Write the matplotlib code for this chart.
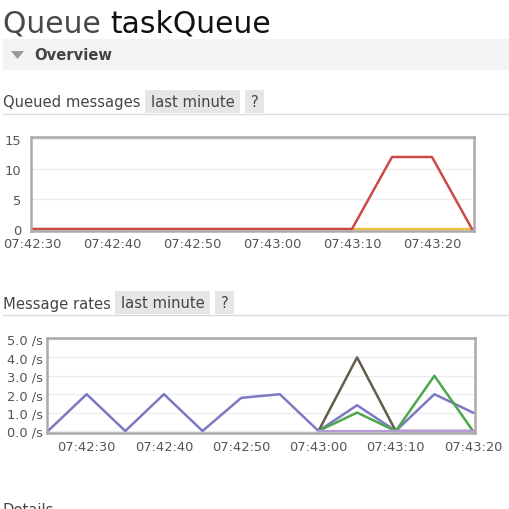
import matplotlib
matplotlib.use("Agg")
import matplotlib.pyplot as plt
import matplotlib.dates as mdates
from matplotlib.patches import Rectangle, Polygon
from matplotlib.lines import Line2D
from matplotlib.ticker import FormatStrFormatter
import numpy as np
import pandas as pd

# ---------------- data ----------------
queue_times = pd.date_range("2024-01-01 07:42:30", "2024-01-01 07:43:25", freq="5s")
queued_ready = [0, 0, 0, 0, 0, 0, 0, 0, 0, 0, 0, 0]
queued_total = [0, 0, 0, 0, 0, 0, 0, 0, 0, 12, 12, 0]

rate_times = pd.date_range("2024-01-01 07:42:25", "2024-01-01 07:43:20", freq="5s")
rate_light = [None, None, None, None, None, None, None, 0, 0, 0, 0, 0]
rate_purple = [0, 2.0, 0, 2.0, 0, 1.8, 2.0, 0, 1.4, 0, 2.0, 1.0]
rate_gray = [None, None, None, None, None, None, None, 0, 4.0, 0, 0, 0]
rate_green = [None, None, None, None, None, None, None, 0, 1.0, 0, 3.0, 0]

queued_yticks = [0, 5, 10, 15]
rate_yticks = [0, 1, 2, 3, 4, 5]

# ---------------- figure ----------------
W = H = 510
fig = plt.figure(figsize=(W / 100, H / 100), dpi=100)
fig.patch.set_facecolor("white")


def fx(x):
    return x / W


def fy(y):
    return 1 - y / H


def rect(x0, y0, x1, y1, color):
    fig.add_artist(Rectangle((fx(x0), fy(y1)), fx(x1) - fx(x0), fy(y0) - fy(y1),
                             transform=fig.transFigure, facecolor=color, edgecolor="none"))


def hline(y, x0, x1, color, lw=1.0):
    fig.add_artist(Line2D([fx(x0), fx(x1)], [fy(y), fy(y)], transform=fig.transFigure,
                          color=color, lw=lw))


TXT = "#444444"
FONT = "DejaVu Sans"

# Title
t1 = fig.text(fx(3), fy(33), "Queue ", fontsize=21.4, color="#484848", family=FONT, va="baseline")
fig.canvas.draw()
bb = t1.get_window_extent()
fig.text(bb.x1 / W, fy(33), "taskQueue", fontsize=21.4, color="#111111", family=FONT, va="baseline")

# Overview bar
rect(3, 40, 510, 71, "#f3f3f3")
fig.add_artist(Polygon([[fx(11), fy(52)], [fx(24), fy(52)], [fx(17.5), fy(60)]], closed=True,
                       transform=fig.transFigure, facecolor="#9a9a9a", edgecolor="none"))
fig.text(fx(34), fy(56), "Overview", fontsize=10.6, fontweight="bold", color=TXT,
         family=FONT, va="center")


def section_header(label, ycenter, box_x0, box_x1, q_x0, q_x1, line_y):
    fig.text(fx(3), fy(ycenter), label, fontsize=10.6, color=TXT, family=FONT, va="center")
    rect(box_x0, ycenter - 12, box_x1, ycenter + 11, "#e6e6e6")
    fig.text(fx((box_x0 + box_x1) / 2), fy(ycenter), "last minute", fontsize=10.6, color=TXT,
             family=FONT, va="center", ha="center")
    rect(q_x0, ycenter - 12, q_x1, ycenter + 11, "#e6e6e6")
    fig.text(fx((q_x0 + q_x1) / 2), fy(ycenter), "?", fontsize=10.6, color=TXT,
             family=FONT, va="center", ha="center")
    hline(line_y, 3, 510, "#dddddd", lw=1.0)


section_header("Queued messages", 103, 145, 240, 245, 264, 115)
section_header("Message rates", 304, 115, 210, 215, 234, 316)

fig.text(fx(3), fy(503), "Details", fontsize=10.6, color=TXT, family=FONT, va="top")


def style_axes(ax):
    for s in ax.spines.values():
        s.set_color("#aaaaaa")
        s.set_linewidth(1.8)
    ax.tick_params(length=0, labelsize=9.4, labelcolor="#555555")
    for lab in ax.get_xticklabels() + ax.get_yticklabels():
        lab.set_family(FONT)
    ax.grid(axis="y", color="#ebebeb", lw=0.8)
    ax.grid(axis="x", visible=False)
    ax.set_axisbelow(True)


# ---------------- chart 1: queued messages ----------------
# pixel mapping: x = 32 + 8 px/s from 07:42:30 ; y = 230 - 6 px/unit
ax1 = fig.add_axes([fx(31), fy(232), fx(474) - fx(31), fy(138) - fy(232)])
t0 = mdates.date2num(queue_times[0])
sec = 1 / 86400
ax1.set_xlim(t0 - 0.125 * sec, t0 + 55.25 * sec)
ax1.set_ylim(-2 / 6, 15 + 2 / 6)
ax1.plot(queue_times, queued_ready, color="#edc240", lw=1.7)
ax1.plot(queue_times, queued_total, color="#cb4b4b", lw=1.8)
ax1.set_yticks(queued_yticks)
ax1.xaxis.set_major_locator(mdates.SecondLocator(bysecond=[0, 10, 20, 30, 40, 50]))
ax1.xaxis.set_major_formatter(mdates.DateFormatter("%H:%M:%S"))
ax1.tick_params(axis="y", pad=7)
ax1.tick_params(axis="x", pad=4.5)
style_axes(ax1)

# ---------------- chart 2: message rates ----------------
# pixel mapping: x = 48 + 7.72 px/s from 07:42:25 ; y = 432 - 18.4 px/unit
ax2 = fig.add_axes([fx(47), fy(434), fx(475) - fx(47), fy(339) - fy(434)])
r0 = mdates.date2num(rate_times[0])
ax2.set_xlim(r0 - (1 / 7.72) * sec, r0 + (55 + 2 / 7.72) * sec)
ax2.set_ylim(-2 / 18.4, 5 + 1 / 18.4)


def arr(v):
    return np.array([np.nan if a is None else a for a in v], dtype=float)


ax2.plot(rate_times, arr(rate_purple), color="#7c79c3", lw=1.8)
ax2.plot(rate_times, arr(rate_gray), color="#625d4d", lw=1.8)
ax2.plot(rate_times, arr(rate_green), color="#4da74d", lw=1.8)
ax2.plot(rate_times, arr(rate_light), color="#b99ad8", lw=1.6)
ax2.set_yticks(rate_yticks)
ax2.yaxis.set_major_formatter(FormatStrFormatter("%.1f /s"))
ax2.xaxis.set_major_locator(mdates.SecondLocator(bysecond=[0, 10, 20, 30, 40, 50]))
ax2.xaxis.set_major_formatter(mdates.DateFormatter("%H:%M:%S"))
ax2.tick_params(axis="y", pad=3)
ax2.tick_params(axis="x", pad=5)
style_axes(ax2)

fig.savefig("out.png", dpi=100, facecolor="white")
